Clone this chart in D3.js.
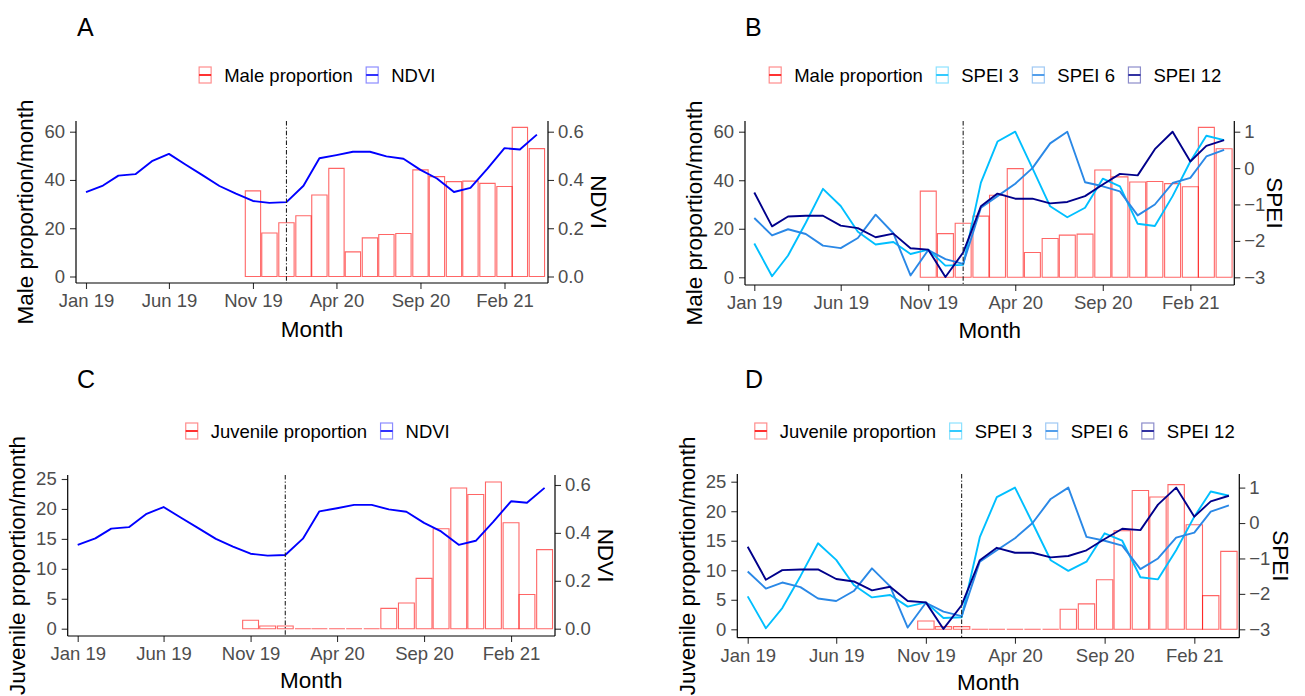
<!DOCTYPE html>
<html>
<head>
<meta charset="utf-8">
<script src="https://cdn.jsdelivr.net/npm/d3@7/dist/d3.min.js"></script>
<style>
	body { margin: 0; background: #fff; }
	text { font-family: "Liberation Sans", Arial, sans-serif; }
</style>
</head>
<body>
<svg id="chart" width="1305" height="696"></svg>
<script>
// ---- data ----
const months = d3.range(28).map((i) => new Date(2019, i, 1));   // Jan 19 .. Apr 21
const barMonths = months.slice(10);                             // Nov 19 .. Apr 21
const eventDate = new Date(2020, 0, 1);

const tickDates = [new Date(2019,0,1), new Date(2019,5,1), new Date(2019,10,1),
	new Date(2020,3,1), new Date(2020,8,1), new Date(2021,1,1)];
const tickLabels = ["Jan 19", "Jun 19", "Nov 19", "Apr 20", "Sep 20", "Feb 21"];

const ndvi = [0.35, 0.377, 0.418, 0.424, 0.478, 0.508, 0.464, 0.42, 0.375, 0.343, 0.313, 0.305,
	0.308, 0.376, 0.49, 0.503, 0.517, 0.517, 0.498, 0.488, 0.442, 0.406, 0.35, 0.367,
	0.447, 0.532, 0.526, 0.588];

const maleProp = [35.5, 18, 22.3, 25.2, 33.8, 44.8, 10.2, 16, 17.4, 17.8, 44.2, 41.4,
	39.3, 39.5, 38.6, 37.3, 61.8, 53];

const juvProp = [1.4, 0.45, 0.45, 0, 0, 0, 0, 0, 3.4, 4.3, 8.4, 16.7,
	23.5, 22.4, 24.5, 17.7, 5.7, 13.2];

const spei3 = [-2.07, -2.97, -2.4, -1.5, -0.57, -1.04, -1.75, -2.1, -2.03, -2.36, -2.24, -2.68,
	-2.66, -0.4, 0.73, 1.0, 0.0, -1.05, -1.35, -1.09, -0.29, -0.5, -1.53, -1.59,
	-0.77, 0.18, 0.89, 0.77];
const spei6 = [-1.37, -1.85, -1.68, -1.81, -2.13, -2.2, -1.92, -1.28, -1.79, -2.95, -2.25, -2.5,
	-2.63, -1.09, -0.77, -0.43, 0.0, 0.68, 1.0, -0.39, -0.5, -0.64, -1.3, -1.0,
	-0.41, -0.27, 0.32, 0.5];
const spei12 = [-0.67, -1.6, -1.33, -1.31, -1.31, -1.58, -1.65, -1.9, -1.8, -2.2, -2.24, -2.99,
	-2.32, -1.05, -0.7, -0.84, -0.84, -0.97, -0.93, -0.77, -0.45, -0.16, -0.2, 0.52,
	1.0, 0.18, 0.61, 0.77];

const maleTicks = [0, 20, 40, 60];
const juvTicks = [0, 5, 10, 15, 20, 25];
const ndviTicks = [0, 0.2, 0.4, 0.6];
const speiTicks = [-3, -2, -1, 0, 1];

// ---- styles ----
const colBar = "#ff0000";
const colNdvi = "#0000ff";
const colS3 = "#00bfff";
const colS6 = "#2a88e6";
const colS12 = "#00008b";

const ndviLines = [{ label: "NDVI", values: ndvi, color: colNdvi }];
const speiLines = [
	{ label: "SPEI 3", values: spei3, color: colS3 },
	{ label: "SPEI 6", values: spei6, color: colS6 },
	{ label: "SPEI 12", values: spei12, color: colS12 }
];

// layout of the four panels (pixels)
const panels = [
	{ letter: "A", lx: 77, ly: 36, x0: 86, x27: 536.9, xL: 76, xR: 548, yTop: 121, yBot: 283,
		y0: 276.5, yRef: 131.7, refVal: 60, leftTicks: maleTicks, bars: maleProp, barLabel: "Male proportion",
		lines: ndviLines, rDomain: [0, 0.6], rRange: [0, 60], rTicks: ndviTicks, rFmt: d3.format(".1f"), rTitle: "NDVI",
		yTitle: "Male proportion/month", yTitleX: 33, rTitleX: 591, xTitleY: 337, legX: 317, legY: 75 },
	{ letter: "B", lx: 745, ly: 36, x0: 754.3, x27: 1224.1, xL: 745, xR: 1234.3, yTop: 121, yBot: 285,
		y0: 277.3, yRef: 131.7, refVal: 60, leftTicks: maleTicks, bars: maleProp, barLabel: "Male proportion",
		lines: speiLines, rDomain: [-3, 1], rRange: [0, 60], rTicks: speiTicks, rFmt: d3.format("d"), rTitle: "SPEI",
		yTitle: "Male proportion/month", yTitleX: 702, rTitleX: 1267, xTitleY: 338, legX: 995, legY: 75 },
	{ letter: "C", lx: 77, ly: 388, x0: 77.7, x27: 544.6, xL: 67.7, xR: 555, yTop: 475, yBot: 636,
		y0: 628.7, yRef: 479, refVal: 25, leftTicks: juvTicks, bars: juvProp, barLabel: "Juvenile proportion",
		lines: ndviLines, rDomain: [0, 0.6], rRange: [0, 24], rTicks: ndviTicks, rFmt: d3.format(".1f"), rTitle: "NDVI",
		yTitle: "Juvenile proportion/month", yTitleX: 25, rTitleX: 598, xTitleY: 688, legX: 317.5, legY: 431 },
	{ letter: "D", lx: 745, ly: 388, x0: 747.7, x27: 1228.9, xL: 737.3, xR: 1239.3, yTop: 474, yBot: 637.7,
		y0: 629.3, yRef: 481.7, refVal: 25, leftTicks: juvTicks, bars: juvProp, barLabel: "Juvenile proportion",
		lines: speiLines, rDomain: [-3, 1], rRange: [0, 24], rTicks: speiTicks, rFmt: d3.format("d"), rTitle: "SPEI",
		yTitle: "Juvenile proportion/month", yTitleX: 695, rTitleX: 1273, xTitleY: 690, legX: 994.5, legY: 431 }
];

const svg = d3.select("#chart");

function drawPanel(p) {
	const g = svg.append("g");

	const x = d3.scaleTime().domain([months[0], months[27]]).range([p.x0, p.x27]);
	const y = d3.scaleLinear().domain([0, p.refVal]).range([p.y0, p.yRef]);
	const yR = d3.scaleLinear().domain(p.rDomain).range([y(p.rRange[0]), y(p.rRange[1])]);

	// bars, drawn as closed paths so that empty months still show a flat outline
	const bw = (x(months[1]) - x(months[0])) * 0.9;
	g.append("g").selectAll("path")
		.data(p.bars)
		.join("path")
			.attr("d", (d, i) => {
				const x1 = x(barMonths[i]) - bw / 2;
				return `M${x1},${y(0)}V${y(d)}H${x1 + bw}V${y(0)}Z`;
			})
			.attr("fill", "none")
			.attr("stroke", colBar)
			.attr("stroke-opacity", 0.6)
			.attr("stroke-width", 1.1);

	// lines
	const line = d3.line()
		.x((d, i) => x(months[i]))
		.y((d) => yR(d));

	g.append("g").selectAll("path")
		.data(p.lines)
		.join("path")
			.attr("fill", "none")
			.attr("stroke", (d) => d.color)
			.attr("stroke-width", 1.9)
			.attr("stroke-linejoin", "round")
			.attr("d", (d) => line(d.values));

	// event line
	g.append("line")
		.attr("x1", x(eventDate)).attr("x2", x(eventDate))
		.attr("y1", p.yTop).attr("y2", p.yBot)
		.attr("stroke", "#222")
		.attr("stroke-width", 1.1)
		.attr("stroke-dasharray", "4.5,2,1.2,2");

	// axes
	const axL = g.append("g")
		.attr("transform", `translate(${p.xL},0)`)
		.call(d3.axisLeft(y).tickValues(p.leftTicks).tickSize(6).tickPadding(5));
	const axR = g.append("g")
		.attr("transform", `translate(${p.xR},0)`)
		.call(d3.axisRight(yR).tickValues(p.rTicks).tickFormat(p.rFmt).tickSize(6).tickPadding(4));
	const axB = g.append("g")
		.attr("transform", `translate(0,${p.yBot})`)
		.call(d3.axisBottom(x).tickValues(tickDates).tickFormat((d, i) => tickLabels[i]).tickSize(6).tickPadding(5));

	[axL, axR, axB].forEach((a) => {
		a.select(".domain").remove();
		a.selectAll(".tick line").attr("stroke", "#333").attr("stroke-width", 1.1);
		a.selectAll(".tick text")
			.attr("fill", "#4d4d4d")
			.style("font-size", "18.5px")
			.style("font-family", '"Liberation Sans", Arial, sans-serif');
	});

	g.append("line").attr("x1", p.xL).attr("x2", p.xL).attr("y1", p.yTop).attr("y2", p.yBot)
		.attr("stroke", "#000").attr("stroke-width", 1.2);
	g.append("line").attr("x1", p.xR).attr("x2", p.xR).attr("y1", p.yTop).attr("y2", p.yBot)
		.attr("stroke", "#000").attr("stroke-width", 1.2);
	g.append("line").attr("x1", p.xL).attr("x2", p.xR).attr("y1", p.yBot).attr("y2", p.yBot)
		.attr("stroke", "#000").attr("stroke-width", 1.2);

	// titles
	const midY = (p.yTop + p.yBot) / 2;
	g.append("text")
		.attr("x", (p.xL + p.xR) / 2).attr("y", p.xTitleY)
		.attr("text-anchor", "middle")
		.style("font-size", "22.5px")
		.text("Month");
	g.append("text")
		.attr("transform", `translate(${p.yTitleX},${midY + 10}) rotate(-90)`)
		.attr("text-anchor", "middle")
		.style("font-size", "22.5px")
		.text(p.yTitle);
	g.append("text")
		.attr("transform", `translate(${p.rTitleX},${midY}) rotate(90)`)
		.attr("text-anchor", "middle")
		.style("font-size", "22.5px")
		.text(p.rTitle);
	g.append("text")
		.attr("x", p.lx).attr("y", p.ly)
		.style("font-size", "25px")
		.text(p.letter);

	// legend
	const items = [{ label: p.barLabel, color: colBar }].concat(p.lines.map((l) => ({ label: l.label, color: l.color })));
	const leg = g.append("g");
	let cursor = 0;
	items.forEach((it) => {
		const k = leg.append("g").attr("transform", `translate(${cursor},0)`);
		k.append("rect")
			.attr("x", 0.5).attr("y", -8)
			.attr("width", 12).attr("height", 16)
			.attr("fill", "none")
			.attr("stroke", it.color)
			.attr("stroke-opacity", 0.45)
			.attr("stroke-width", 1.2);
		k.append("line")
			.attr("x1", 0.5).attr("x2", 12.5)
			.attr("y1", 0).attr("y2", 0)
			.attr("stroke", it.color)
			.attr("stroke-width", 1.6);
		const t = k.append("text")
			.attr("x", 25.5).attr("y", 6.5)
			.style("font-size", "18.5px")
			.text(it.label);
		cursor += 25.5 + t.node().getComputedTextLength() + 13;
	});
	const total = cursor - 13;
	leg.attr("transform", `translate(${p.legX - total / 2},${p.legY})`);
}

panels.forEach(drawPanel);
</script>
</body>
</html>
